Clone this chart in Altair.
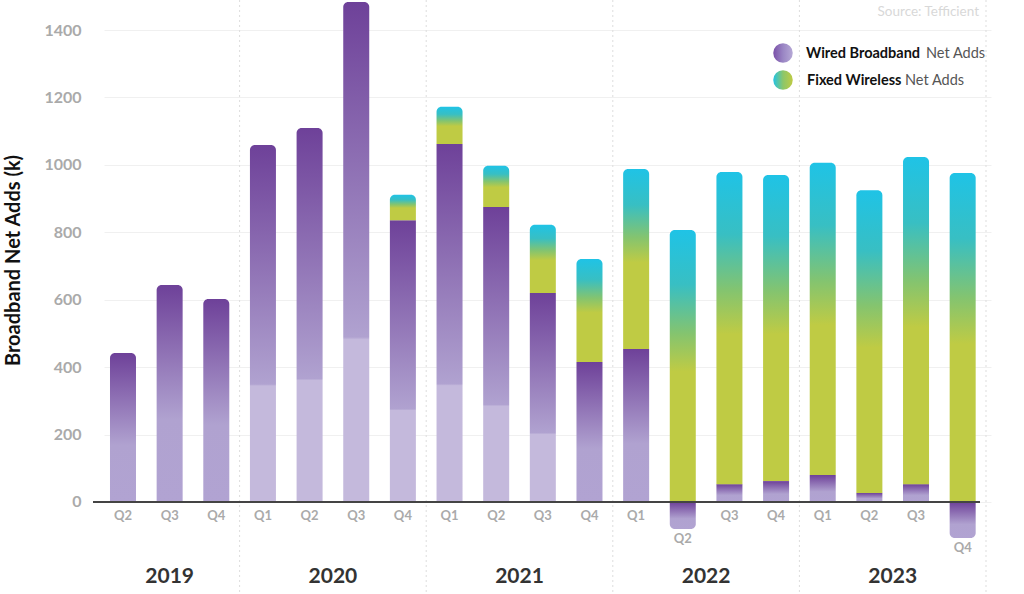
import altair as alt
import pandas as pd

# ---------------- data ----------------
years = ["2019"] * 3 + ["2020"] * 4 + ["2021"] * 4 + ["2022"] * 4 + ["2023"] * 4
quarters = ["Q2", "Q3", "Q4",
            "Q1", "Q2", "Q3", "Q4",
            "Q1", "Q2", "Q3", "Q4",
            "Q1", "Q2", "Q3", "Q4",
            "Q1", "Q2", "Q3", "Q4"]
wired = [442, 644, 602,
         1059, 1109, 1483, 836,
         1062, 875, 620, 415,
         454, -80, 53, 62,
         80, 27, 53, -107]
fixed_wireless = [0, 0, 0,
                  0, 0, 0, 75,
                  110, 122, 202, 306,
                  534, 807, 926, 908,
                  926, 898, 970, 976]
y_ticks = [0, 200, 400, 600, 800, 1000, 1200, 1400]
legend_bold = ["Wired Broadband", "Fixed Wireless"]
legend_rest = ["Net Adds", "Net Adds"]
source_text = "Source: Tefficient"
y_title = "Broadband Net Adds (k)"

df = pd.DataFrame({"year": years, "q": quarters, "wired": wired, "fw": fixed_wireless})
df["idx"] = list(range(len(df)))
df["period"] = df["year"] + " " + df["q"]
df["base"] = df["wired"].clip(lower=0)
df["top"] = df["base"] + df["fw"]
df["low"] = df["wired"].clip(upper=0)

# bars whose lower part is drawn in a lighter tint in the original
step_periods = ["2020 Q1", "2020 Q2", "2020 Q3", "2020 Q4", "2021 Q1", "2021 Q2", "2021 Q3"]
df["step"] = df["period"].isin(step_periods)

yr = df.groupby("year", as_index=False).agg(center=("idx", "mean"), last=("idx", "max"))
yr["sep"] = yr["last"] + 0.5

FONT = "Lato"
W, H = 887, 594
xscale = alt.Scale(domain=[-0.3, 18.5], nice=False, zero=False)
yscale = alt.Scale(domain=[-272.9, 1489.0], nice=False, zero=False)
yaxis = alt.Axis(values=y_ticks, format="d", title=y_title, grid=True, gridColor="#f0f0f0",
                 domain=False, ticks=False, labelFont=FONT, labelFontWeight="bold",
                 labelFontSize=16, labelColor="#aaaaaa", labelPadding=23,
                 titleFont=FONT, titleFontSize=20, titleFontWeight="bold",
                 titleColor="#111111", titleAngle=270, titleAlign="center",
                 titleBaseline="middle", titleX=-91, titleY=260)

X = alt.X("idx:Q", scale=xscale, axis=None)


def grad(stops, horizontal=False):
    return {"gradient": "linear", "x1": 0, "y1": 0,
            "x2": 1 if horizontal else 0, "y2": 0 if horizontal else 1,
            "stops": [{"offset": o, "color": c} for o, c in stops]}


WIRED_PLAIN = grad([(0, "#6e4199"), (0.62, "#b0a2d0"), (1, "#b1a3d2")])
WIRED_STEP = grad([(0, "#6e4199"), (0.67, "#b0a2d0"), (0.675, "#c4b9dc"), (1, "#c4b9dc")])
FW_GRAD = grad([(0, "#1fc3e6"), (0.2, "#38bfc3"), (0.38, "#84c46f"), (0.52, "#bfcb44"), (1, "#bfcb44")])

base = alt.Chart(df)
BAR = 26

grid = base.mark_bar(opacity=0).encode(x=X, y=alt.Y("wired:Q", scale=yscale, axis=yaxis))

seps = alt.Chart(yr).mark_rule(color="#dddddd", strokeDash=[2, 3], strokeWidth=1).encode(
    x=alt.X("sep:Q", scale=xscale, axis=None))


def wired_layer(cond, fill, rounded_top=False, rounded_bottom=False):
    kw = {}
    if rounded_top:
        kw.update(cornerRadiusTopLeft=5, cornerRadiusTopRight=5)
    if rounded_bottom:
        kw.update(cornerRadiusBottomLeft=5, cornerRadiusBottomRight=5)
    return base.transform_filter(cond).mark_bar(size=BAR, color=fill, **kw).encode(
        x=X,
        y=alt.Y("wired:Q", scale=yscale, axis=yaxis),
        y2=alt.Y2(datum=0),
    )


w1 = wired_layer("datum.wired > 0 && datum.fw == 0 && datum.step", WIRED_STEP, rounded_top=True)
w2 = wired_layer("datum.wired > 0 && datum.fw == 0 && !datum.step", WIRED_PLAIN, rounded_top=True)
w3 = wired_layer("datum.wired > 0 && datum.fw > 0 && datum.step", WIRED_STEP)
w4 = wired_layer("datum.wired > 0 && datum.fw > 0 && !datum.step", WIRED_PLAIN)
w5 = wired_layer("datum.wired < 0", WIRED_PLAIN, rounded_bottom=True)

fwbars = base.transform_filter("datum.fw > 0").mark_bar(
    size=BAR, color=FW_GRAD, cornerRadiusTopLeft=5, cornerRadiusTopRight=5).encode(
    x=X,
    y=alt.Y("top:Q", scale=yscale, axis=yaxis),
    y2="base:Q",
)

zero_line = alt.Chart(pd.DataFrame({"z": [0]})).mark_rule(color="#444444", strokeWidth=2).encode(
    y=alt.Y("z:Q", scale=yscale, axis=yaxis), x=alt.value(-11), x2=alt.value(876))

qtext_kw = dict(font=FONT, fontWeight="bold", fontSize=13, color="#aaaaaa",
                align="center", baseline="middle")
qpos = base.transform_filter("datum.wired >= 0").mark_text(dy=14, **qtext_kw).encode(
    x=X, y=alt.Y("low:Q", scale=yscale, axis=yaxis), text="q:N")
qneg = base.transform_filter("datum.wired < 0").mark_text(dy=10, **qtext_kw).encode(
    x=X, y=alt.Y("low:Q", scale=yscale, axis=yaxis), text="q:N")

ylabels = alt.Chart(yr).mark_text(font=FONT, fontWeight="bold", fontSize=21, color="#333333",
                                  align="center", baseline="middle").encode(
    x=alt.X("center:Q", scale=xscale, axis=None), y=alt.value(577), text="year:N")

# legend
leg = pd.DataFrame({"bold": legend_bold, "rest": legend_rest, "row": [0, 1]})
lc1 = alt.Chart(leg).transform_filter("datum.row == 0").mark_circle(
    size=380, opacity=1, color=grad([(0, "#7a50a8"), (0.5, "#9a86c4"), (1, "#b6a9d6")], horizontal=True)).encode(
    x=alt.value(679), y=alt.value(53))
lc2 = alt.Chart(leg).transform_filter("datum.row == 1").mark_circle(
    size=380, opacity=1, color=grad([(0, "#22c3e3"), (0.5, "#8cc66a"), (1, "#bfcb44")], horizontal=True)).encode(
    x=alt.value(679), y=alt.value(80))
lt1 = alt.Chart(leg).transform_filter("datum.row == 0").mark_text(
    font=FONT, fontWeight="bold", fontSize=14.5, color="#111111", align="left", baseline="middle").encode(
    x=alt.value(702), y=alt.value(54), text="bold:N")
lt1b = alt.Chart(leg).transform_filter("datum.row == 0").mark_text(
    font=FONT, fontSize=14.5, color="#555555", align="left", baseline="middle").encode(
    x=alt.value(822), y=alt.value(54), text="rest:N")
lt2 = alt.Chart(leg).transform_filter("datum.row == 1").mark_text(
    font=FONT, fontWeight="bold", fontSize=14.5, color="#111111", align="left", baseline="middle").encode(
    x=alt.value(703), y=alt.value(81), text="bold:N")
lt2b = alt.Chart(leg).transform_filter("datum.row == 1").mark_text(
    font=FONT, fontSize=14.5, color="#555555", align="left", baseline="middle").encode(
    x=alt.value(801), y=alt.value(81), text="rest:N")

src = alt.Chart(pd.DataFrame({"t": [source_text]})).mark_text(
    font=FONT, fontSize=13.5, color="#d8d8d8", align="right", baseline="middle").encode(
    x=alt.value(875), y=alt.value(12), text="t:N")

chart = alt.layer(
    grid, seps, w1, w2, w3, w4, w5, fwbars, zero_line, qpos, qneg, ylabels,
    lc1, lc2, lt1, lt1b, lt2, lt2b, src
).properties(
    width=W, height=H, autosize="none",
    padding={"left": 104, "top": 0, "right": 1024 - 104 - W, "bottom": 0},
    background="white",
).configure_view(stroke=None)

chart.save("out.html", embed_options={"renderer": "svg", "actions": False})
